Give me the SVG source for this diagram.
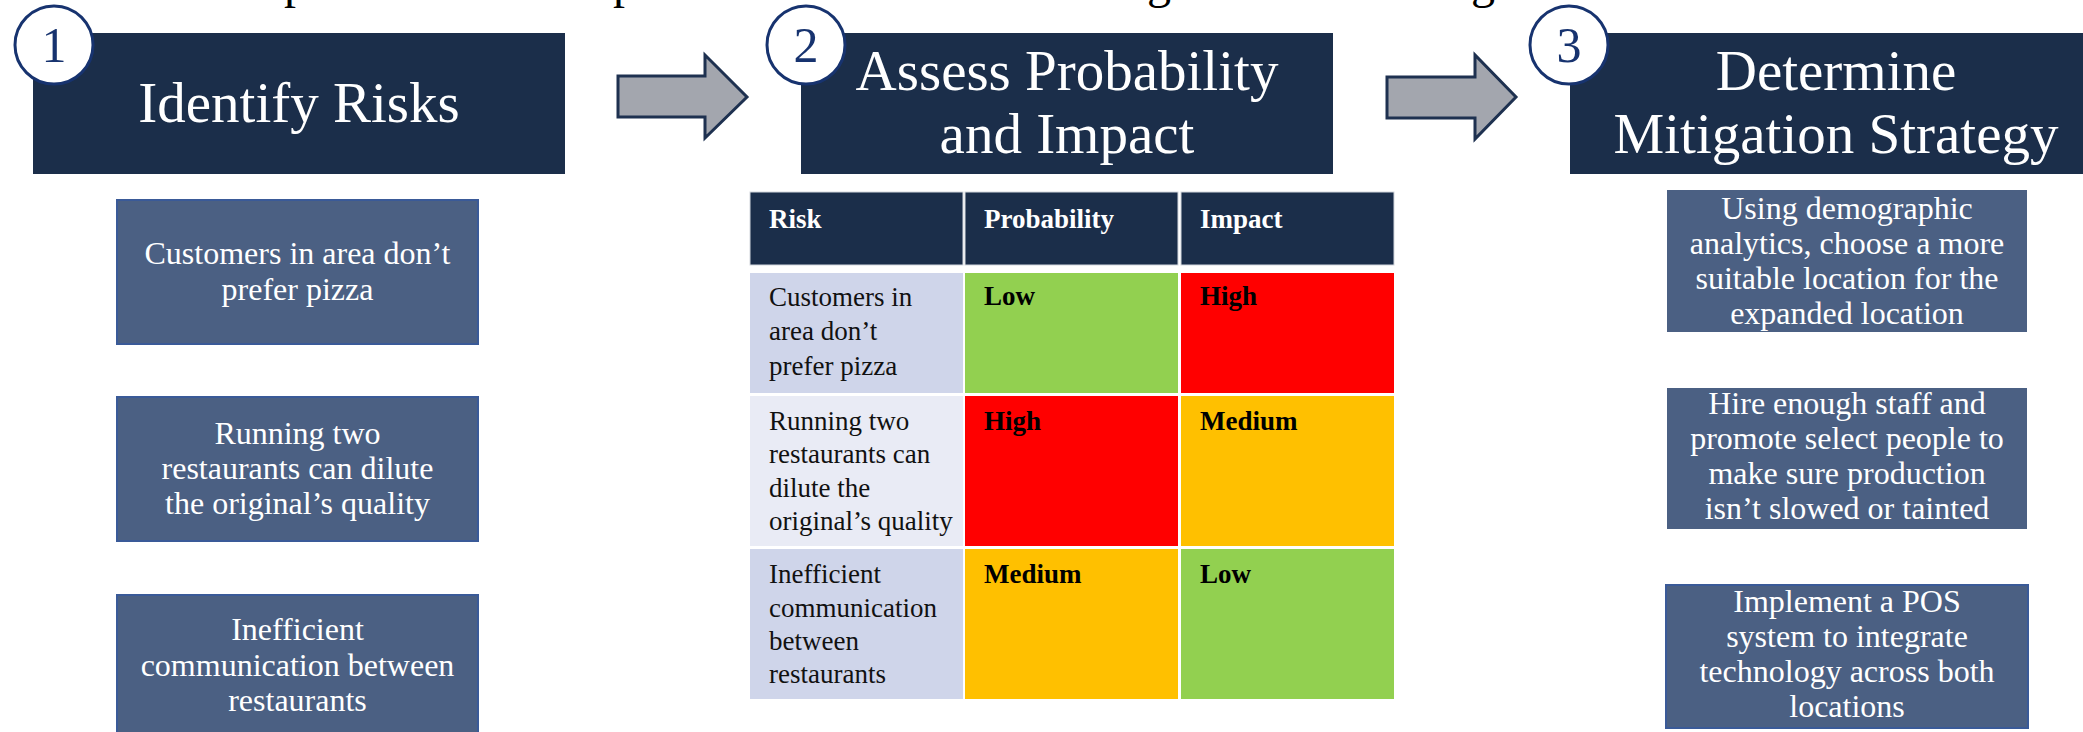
<svg xmlns="http://www.w3.org/2000/svg" width="2083" height="732" viewBox="0 0 2083 732">
  <style>
    .hdr { fill: #1b2e4a; }
    .th { fill: #1b2e4a; stroke: #d3d7de; stroke-width: 1; }
    .badge { fill: #ffffff; stroke: #17336f; stroke-width: 3; }
    .badge-t { font-family: "Liberation Serif", serif; font-size: 50px; fill: #17336f; text-anchor: middle; }
    .ttl { font-family: "Liberation Serif", serif; font-size: 57px; fill: #ffffff; text-anchor: middle; }
    .card { fill: #4b6083; stroke: #3a5a98; stroke-width: 2; }
    .card-plain { fill: #4b6083; }
    .card-t { font-family: "Liberation Serif", serif; font-size: 32px; fill: #ffffff; text-anchor: middle; }
    .arrow { fill: #a3a6ae; stroke: #1e3150; stroke-width: 3; stroke-linejoin: miter; }
    .th-t { font-family: "Liberation Serif", serif; font-size: 27px; font-weight: bold; fill: #ffffff; }
    .td-t { font-family: "Liberation Serif", serif; font-size: 27px; fill: #111111; }
    .td-b { font-family: "Liberation Serif", serif; font-size: 27px; font-weight: bold; fill: #000000; }
    .risk-a { fill: #cfd5ea; }
    .risk-b { fill: #e9ebf5; }
    .low { fill: #92d050; }
    .high { fill: #ff0000; }
    .med { fill: #ffc000; }
    .title { font-family: "Liberation Serif", serif; font-size: 48px; fill: #000000; }
  </style>

  <!-- page title, running above the top edge -->
  <g id="page-title">
    <text class="title" x="284" y="-2">p</text>
    <text class="title" x="613" y="-2">p</text>
    <text class="title" x="1147" y="-2">g</text>
    <text class="title" x="1471" y="-2">g</text>
  </g>

  <!-- step 1 -->
  <g id="step1">
    <rect class="hdr" x="33" y="33" width="532" height="141"/>
    <text class="ttl" x="299" y="122">Identify Risks</text>
    <circle class="badge" cx="54" cy="45" r="39"/>
    <text class="badge-t" x="54" y="62">1</text>
  </g>

  <!-- step 2 -->
  <g id="step2">
    <rect class="hdr" x="801" y="33" width="532" height="141"/>
    <text class="ttl" x="1067" y="90">Assess Probability</text>
    <text class="ttl" x="1067" y="153">and Impact</text>
    <circle class="badge" cx="806" cy="45" r="39"/>
    <text class="badge-t" x="806" y="62">2</text>
  </g>

  <!-- step 3 -->
  <g id="step3">
    <rect class="hdr" x="1570" y="33" width="532" height="141"/>
    <text class="ttl" x="1836" y="90">Determine</text>
    <text class="ttl" x="1836" y="153">Mitigation Strategy</text>
    <circle class="badge" cx="1569" cy="45" r="39"/>
    <text class="badge-t" x="1569" y="62">3</text>
  </g>

  <!-- block arrows between the steps -->
  <g id="connectors">
    <polygon class="arrow" points="618,76 705,76 705,55 747,97 705,138 705,117 618,117"/>
    <polygon class="arrow" points="1387,77 1475,77 1475,55 1516,97 1475,139 1475,118 1387,118"/>
  </g>

  <!-- risks -->
  <g id="risk1">
    <rect class="card" x="117" y="200" width="361" height="144"/>
    <text class="card-t" x="297.5" y="264">Customers in area don’t</text>
    <text class="card-t" x="297.5" y="300">prefer pizza</text>
  </g>
  <g id="risk2">
    <rect class="card" x="117" y="397" width="361" height="144"/>
    <text class="card-t" x="297.5" y="444">Running two</text>
    <text class="card-t" x="297.5" y="479">restaurants can dilute</text>
    <text class="card-t" x="297.5" y="514">the original’s quality</text>
  </g>
  <g id="risk3">
    <rect class="card" x="117" y="595" width="361" height="144"/>
    <text class="card-t" x="297.5" y="640">Inefficient</text>
    <text class="card-t" x="297.5" y="676">communication between</text>
    <text class="card-t" x="297.5" y="711">restaurants</text>
  </g>

  <!-- probability / impact matrix -->
  <g id="matrix">
    <rect class="th" x="750" y="192" width="213" height="73"/>
    <rect class="th" x="965" y="192" width="213" height="73"/>
    <rect class="th" x="1181" y="192" width="213" height="73"/>
    <text class="th-t" x="769" y="228">Risk</text>
    <text class="th-t" x="984" y="228">Probability</text>
    <text class="th-t" x="1200" y="228">Impact</text>

    <rect class="risk-a" x="750" y="273" width="213" height="120"/>
    <rect class="low" x="965" y="273" width="213" height="120"/>
    <rect class="high" x="1181" y="273" width="213" height="120"/>
    <text class="td-t" x="769" y="306">Customers in</text>
    <text class="td-t" x="769" y="340">area don’t</text>
    <text class="td-t" x="769" y="375">prefer pizza</text>
    <text class="td-b" x="984" y="305">Low</text>
    <text class="td-b" x="1200" y="305">High</text>

    <rect class="risk-b" x="750" y="396" width="213" height="150"/>
    <rect class="high" x="965" y="396" width="213" height="150"/>
    <rect class="med" x="1181" y="396" width="213" height="150"/>
    <text class="td-t" x="769" y="430">Running two</text>
    <text class="td-t" x="769" y="463">restaurants can</text>
    <text class="td-t" x="769" y="497">dilute the</text>
    <text class="td-t" x="769" y="530">original’s quality</text>
    <text class="td-b" x="984" y="430">High</text>
    <text class="td-b" x="1200" y="430">Medium</text>

    <rect class="risk-a" x="750" y="549" width="213" height="150"/>
    <rect class="med" x="965" y="549" width="213" height="150"/>
    <rect class="low" x="1181" y="549" width="213" height="150"/>
    <text class="td-t" x="769" y="583">Inefficient</text>
    <text class="td-t" x="769" y="617">communication</text>
    <text class="td-t" x="769" y="650">between</text>
    <text class="td-t" x="769" y="683">restaurants</text>
    <text class="td-b" x="984" y="583">Medium</text>
    <text class="td-b" x="1200" y="583">Low</text>
  </g>

  <!-- mitigation strategies -->
  <g id="mitigation1">
    <rect class="card-plain" x="1667" y="190" width="360" height="142"/>
    <text class="card-t" x="1847" y="219">Using demographic</text>
    <text class="card-t" x="1847" y="254">analytics, choose a more</text>
    <text class="card-t" x="1847" y="289">suitable location for the</text>
    <text class="card-t" x="1847" y="324">expanded location</text>
  </g>
  <g id="mitigation2">
    <rect class="card-plain" x="1667" y="388" width="360" height="141"/>
    <text class="card-t" x="1847" y="414">Hire enough staff and</text>
    <text class="card-t" x="1847" y="449">promote select people to</text>
    <text class="card-t" x="1847" y="484">make sure production</text>
    <text class="card-t" x="1847" y="519">isn’t slowed or tainted</text>
  </g>
  <g id="mitigation3">
    <rect class="card" x="1666" y="585" width="362" height="143"/>
    <text class="card-t" x="1847" y="612">Implement a POS</text>
    <text class="card-t" x="1847" y="647">system to integrate</text>
    <text class="card-t" x="1847" y="682">technology across both</text>
    <text class="card-t" x="1847" y="717">locations</text>
  </g>
</svg>
